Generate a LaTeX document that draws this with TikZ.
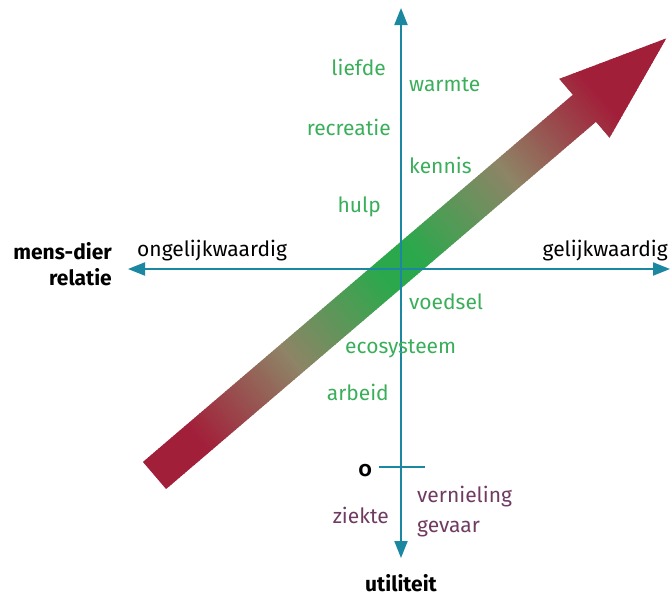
\documentclass[tikz,border=0pt]{standalone}
\usepackage{fontspec}
\setmainfont{Fira Sans}
\usetikzlibrary{arrows.meta}
\definecolor{ared}{HTML}{A21F3A}
\definecolor{amid}{HTML}{8E8466}
\definecolor{agreen}{HTML}{2CA84C}
\definecolor{axisc}{HTML}{1B87A1}
\definecolor{tgreen}{HTML}{3AAE5A}
\definecolor{tplum}{HTML}{6F3B62}
\tikzset{
  axisline/.style={draw=axisc, line width=2pt, -{Triangle[length=17pt,width=13pt]}},
  gl/.style={text=tgreen, font=\fontsize{21pt}{24pt}\selectfont, inner sep=0pt},
  pl/.style={text=tplum, font=\fontsize{21pt}{24pt}\selectfont, inner sep=0pt},
  bl/.style={text=black, font=\fontsize{21pt}{24pt}\selectfont\bfseries, inner sep=0pt},
  kl/.style={text=black, font=\fontsize{21pt}{24pt}\selectfont, inner sep=0pt}
}
\begin{document}
\begin{tikzpicture}[x=1pt,y=-1pt]
\useasboundingbox (0,0) rectangle (671,597);
% big gradient arrow
\begin{scope}[shift={(154.5,475.5)}, rotate=40.5]
  \clip (0,-17.8) -- (565.5,-17.8) -- (565.5,-38.7) -- (673,0) -- (565.5,38.7) -- (565.5,17.8) -- (0,17.8) -- cycle;
  \foreach \i in {0,...,199}{
    \pgfmathsetmacro\t{(\i+0.5)/200}
    \pgfmathsetmacro\sa{min(1,max(0,(\t-0.085)/0.365))}
    \pgfmathsetmacro\sb{min(1,max(0,(0.87-\t)/0.36))}
    \pgfmathsetmacro\s{min(\sa,\sb)}
    \pgfmathsetmacro\pa{min(100,\s*200)}
    \pgfmathsetmacro\pb{100-max(0,(\s-0.5)*200)}
    \pgfmathsetmacro\la{\i*3.365}
    \pgfmathsetmacro\lb{(\i+1)*3.365+1}
    \fill[amid!\pa!ared!\pb!agreen] (\la,-40) rectangle (\lb,40);
  }
\end{scope}
% axes
\coordinate (vtop) at (401,8);
\coordinate (vbot) at (401,558);
\coordinate (hl) at (128,269);
\coordinate (hr) at (670,269);
\coordinate (ctr) at (401,269);
\coordinate (tka) at (379,467);
\coordinate (tkb) at (425,467);
\draw[axisline] (ctr) -- (vtop);
\draw[axisline] (ctr) -- (vbot);
\draw[axisline] (ctr) -- (hl);
\draw[axisline] (ctr) -- (hr);
\draw[draw=axisc, line width=2pt] (tka) -- (tkb);
% labels
\node[gl, anchor=east] (liefde) at (386,67) {liefde};
\node[gl, anchor=west] (warmte) at (409,85) {warmte};
\node[gl, anchor=east] (recreatie) at (391,127) {recreatie};
\node[gl, anchor=west] (kennis) at (409,165) {kennis};
\node[gl, anchor=east] (hulp) at (381,207) {hulp};
\node[gl, anchor=west] (voedsel) at (409,302) {voedsel};
\node[gl, anchor=west] (ecosysteem) at (345,349) {ecosysteem};
\node[gl, anchor=east] (arbeid) at (389,392) {arbeid};
\node[kl, anchor=west] (ongelijk) at (137,251) {ongelijkwaardig};
\node[kl, anchor=east] (gelijk) at (668,251) {gelijkwaardig};
\node[bl, anchor=east] (mens) at (112,251) {mens-dier};
\node[bl, anchor=east] (relatie) at (112,277) {relatie};
\node[bl, anchor=east] (nul) at (372,471) {\addfontfeatures{Numbers=OldStyle}0};
\node[pl, anchor=west] (vernieling) at (417,497) {vernieling};
\node[pl, anchor=west] (gevaar) at (417,529) {gevaar};
\node[pl, anchor=east] (ziekte) at (389,515) {ziekte};
\node[bl] (utiliteit) at (401,583) {utiliteit};
\end{tikzpicture}
\end{document}
